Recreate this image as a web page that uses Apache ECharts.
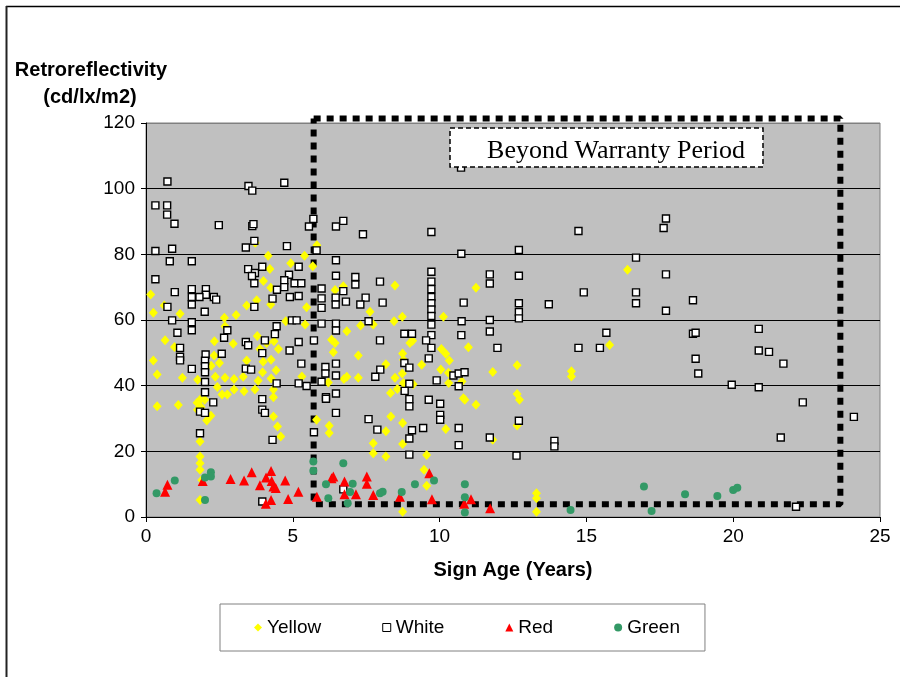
<!DOCTYPE html>
<html>
<head>
<meta charset="utf-8">
<script src="https://cdn.jsdelivr.net/npm/echarts@6/dist/echarts.min.js"></script>
<style>
html,body{margin:0;padding:0;background:#fff;}
#chart{width:900px;height:677px;}
</style>
</head>
<body>
<div id="chart"></div>
<script>
// ---- Data ----
const seriesNames = ['Yellow', 'White', 'Red', 'Green'];
const xTicks = [0, 5, 10, 15, 20, 25];
const yTicks = [0, 20, 40, 60, 80, 100, 120];
const xTitle = 'Sign Age (Years)';
const yTitle = ['Retroreflectivity', '(cd/lx/m2)'];
const boxLabel = 'Beyond Warranty Period';

const yellowPts = [
 [4.16,79.6],[5.4,79.6],[4.93,77.3],[4.22,75.5],[4.0,71.9],[4.25,69.8],[5.68,76.4],[0.16,67.8],[3.43,64.4],[3.77,66.0],
 [4.25,64.7],[5.47,63.9],[0.25,62.2],[1.16,61.9],[3.72,83.5],[0.62,64.4],[5.82,82.8],
 [2.67,60.7],[3.07,61.5],[2.69,58.1],[0.65,53.8],[0.97,51.8],[2.33,53.5],[2.97,52.8],[0.25,47.7],[0.38,43.4],[1.24,42.4],
 [1.76,41.8],[2.22,46.1],[2.5,46.9],[2.32,49.2],[2.36,42.7],[2.69,42.4],[3.0,42.0],[2.43,39.6],[2.59,37.3],[2.77,37.3],
 [3.0,38.8],[3.34,38.3],[3.31,42.7],[3.43,47.7],[3.71,38.8],[3.82,41.5],[3.97,44.1],[3.99,47.3],[4.26,47.9],[4.26,42.2],
 [4.43,44.7],[4.34,38.8],[4.34,36.5],[4.36,53.5],[4.51,51.2],[3.79,55.1],[3.88,51.2],[4.11,53.0],[5.31,42.8],[5.42,58.6],
 [4.76,59.6],[0.38,33.7],[1.1,34.1],[1.74,34.8],[1.84,35.7],[2.0,35.7],[1.75,32.7],[1.87,33.5],[2.21,30.8],[2.07,29.4],
 [4.34,30.6],[4.48,27.6],[4.59,24.5],[1.84,23.0],[1.84,18.4],[1.84,16.4],[1.84,14.4],[1.84,5.2],[1.9,11.3],[5.81,29.6],
 [8.48,70.5],[11.24,69.8],[6.44,69.1],[6.72,70.3],
 [7.63,62.5],[8.73,61.0],[8.45,59.6],[10.13,61.0],[7.31,58.3],[7.74,58.6],[6.84,56.6],[6.32,54.0],[6.44,53.0],[6.38,50.2],
 [7.23,49.2],[8.99,53.0],[9.08,53.7],[8.74,49.8],[8.77,47.9],[10.06,51.2],[10.21,49.7],[10.33,47.7],[10.98,51.7],[9.39,46.4],
 [8.17,46.5],[10.04,44.9],[10.3,43.9],[10.31,40.8],[10.76,41.3],[9.1,40.4],[7.23,42.4],[6.74,42.0],[6.84,42.7],[6.21,41.0],
 [8.48,42.4],[8.73,43.7],[8.33,37.8],[8.56,39.0],[8.77,40.8],[10.81,36.2],[10.86,35.7],[11.24,34.2],[6.24,27.8],[6.24,25.6],
 [8.34,30.6],[8.74,28.6],[8.17,26.1],[7.74,22.5],[7.74,19.4],[8.17,18.4],[8.74,22.2],[10.21,26.8],[9.56,18.9],[9.47,14.4],
 [9.56,9.5],[8.74,1.6],
 [16.4,75.3],[15.79,52.4],[11.81,44.2],[12.64,46.2],[14.49,44.4],[14.49,42.8],[12.64,37.5],[12.72,35.7],[12.64,27.9],[11.81,23.5],
 [13.3,7.2],[13.3,5.7],[13.3,1.6]
];

const whitePts = [
 [0.73,102.2],[3.49,100.8],[3.62,99.4],[4.71,101.8],[0.32,94.9],[0.72,94.9],[0.72,92.1],[0.97,89.3],[2.48,88.9],[3.62,88.6],
 [3.66,89.2],[5.7,90.8],[5.55,88.5],[3.69,84.1],[3.4,82.1],[4.8,82.5],[0.32,81.0],[0.89,81.7],[0.81,77.9],[1.56,77.9],
 [0.32,72.4],[0.98,68.5],[1.56,69.4],[1.56,67.0],[1.56,64.7],[2.04,69.4],[2.04,67.7],[1.82,67.0],[2.31,67.0],[2.39,66.2],
 [0.73,64.0],[2.0,62.5],[3.48,75.5],[3.71,74.3],[3.61,73.4],[3.96,76.2],[3.69,71.2],[5.2,76.2],[4.87,73.8],[4.71,72.1],
 [5.06,71.2],[5.29,71.2],[4.46,69.2],[4.71,70.0],[4.9,67.0],[5.2,67.3],[4.31,66.5],[3.69,64.0],[5.98,69.6],[5.81,81.2],
 [0.89,59.9],[1.56,59.3],[1.56,56.9],[1.07,56.1],[2.77,56.9],[2.66,54.6],[4.45,58.1],[4.39,55.7],[4.05,53.8],[3.4,53.3],
 [3.48,52.3],[1.16,51.5],[1.16,48.8],[1.16,47.7],[2.03,49.5],[2.01,47.6],[2.58,49.7],[3.96,49.9],[4.89,50.7],[5.2,53.3],
 [4.97,59.9],[5.13,59.9],[5.29,46.7],[1.56,45.1],[2.01,45.9],[2.01,44.1],[3.4,45.2],[3.58,44.9],[2.01,41.1],[2.01,38.0],
 [4.45,40.7],[5.2,40.7],[5.47,39.9],[2.29,34.9],[1.84,32.1],[2.01,31.7],[3.96,35.9],[3.96,32.7],[4.05,31.7],[1.84,25.5],
 [4.31,23.5],[3.96,4.7],
 [6.47,88.5],[6.72,90.2],[7.39,86.1],[9.72,86.8],[10.73,106.4],[10.74,80.2],[6.47,78.2],[6.47,73.5],[7.13,73.1],[7.13,70.8],
 [7.97,71.7],[6.72,68.8],[5.98,66.6],[6.46,66.8],[6.46,64.7],[6.81,65.6],[7.48,66.8],[7.3,64.7],[8.06,65.3],[9.72,74.7],
 [9.72,71.7],[9.72,69.4],[9.72,67.0],[9.72,65.1],[9.72,63.2],[10.82,65.3],[5.98,63.7],
 [9.72,61.2],[9.72,58.6],[9.72,55.4],[9.72,51.5],[10.75,59.6],[10.74,55.4],[5.98,58.9],[6.47,58.9],[6.47,56.8],[7.58,59.6],
 [7.97,53.8],[8.8,55.8],[9.06,55.8],[9.54,53.8],[5.72,53.8],[6.47,46.7],[6.11,45.7],[6.11,43.7],[6.47,43.1],[5.98,41.2],
 [7.98,44.9],[7.81,42.7],[8.8,46.9],[8.97,45.5],[8.97,40.6],[8.81,38.4],[8.97,35.9],[8.97,33.7],[9.63,48.3],[9.9,41.6],
 [10.47,43.1],[10.65,43.7],[10.85,44.1],[10.65,39.8],[9.63,35.7],[10.02,34.5],[10.02,31.1],[10.02,29.6],[10.65,27.1],[10.65,21.9],
 [6.47,37.6],[6.13,36.5],[6.13,36.0],[6.47,31.7],[7.58,29.8],[7.88,26.6],[9.06,26.4],[8.97,23.9],[9.44,27.1],[8.97,19.0],
 [5.72,25.8],[6.72,8.4],
 [14.73,87.1],[17.71,90.9],[17.63,88.0],[12.7,81.3],[16.69,79.0],[11.71,73.9],[11.71,71.1],[12.7,73.5],[17.71,73.9],[14.91,68.4],
 [16.69,68.4],[16.69,65.1],[12.7,65.1],[12.7,62.4],[12.7,60.5],[13.72,64.8],[17.71,62.8],[11.71,60.0],[11.71,56.5],[11.97,51.5],
 [15.68,56.1],[14.73,51.5],[15.46,51.5],[12.7,29.3],[11.71,24.2],[13.91,23.2],[13.91,21.5],[12.62,18.7],
 [18.63,66.0],[18.63,55.8],[18.72,56.1],[18.72,48.2],[18.81,43.7],[20.87,57.3],[20.87,50.7],[21.22,50.3],[21.71,46.7],[19.95,40.3],
 [20.87,39.5],[22.37,34.9],[24.11,30.5],[21.62,24.2],[22.14,3.1]
];

const redPts = [
 [0.73,9.8],[0.65,7.7],[1.93,11.0],[2.88,11.6],[3.34,11.1],[3.6,13.6],[4.26,14.0],[4.09,12.0],[3.88,9.7],[4.28,11.0],
 [4.34,9.3],[4.42,8.8],[4.74,11.1],[5.19,7.7],[4.26,5.2],[4.08,4.0],[4.84,5.5],[5.82,6.2],[6.38,12.3],[6.32,11.8],
 [6.76,10.8],[7.52,12.3],[7.52,10.1],[6.76,6.9],[7.15,6.9],[7.74,6.7],[8.65,6.2],[9.65,13.3],[9.74,5.4],[10.84,4.0],
 [11.07,5.4],[11.72,2.7]
];

const greenPts = [
 [0.36,7.2],[0.98,11.1],[2.01,12.0],[2.21,13.6],[2.21,12.3],[2.01,5.2],[5.7,16.9],[5.7,14.1],[6.72,16.4],[6.13,10.0],
 [7.04,10.1],[6.95,7.6],[6.87,4.2],[6.21,5.7],[7.97,7.2],[8.06,7.7],[8.71,7.6],[9.16,10.0],[9.81,11.1],[10.86,10.0],
 [10.86,6.0],[10.86,1.4],[14.46,2.1],[16.96,9.3],[17.22,1.8],[18.36,6.9],[19.46,6.4],[20.0,8.2],[20.14,8.9]
];

// Warranty region outline (data coordinates)
const warrantyBox = [[5.71,121.4],[23.65,121.4],[23.65,3.9],[5.71,3.9],[5.71,121.4]];

// ---- Chart ----
const FONT = "'Liberation Sans', Arial, sans-serif";
const chart = echarts.init(document.getElementById('chart'), null, {renderer: 'canvas'});

const option = {
  animation: false,
  backgroundColor: '#ffffff',
  grid: {
    left: 146, right: 20, top: 123, bottom: 160,
    show: true, backgroundColor: '#C0C0C0', borderColor: '#808080', borderWidth: 1
  },
  xAxis: {
    type: 'value', min: xTicks[0], max: xTicks[xTicks.length-1], interval: 5,
    name: xTitle, nameLocation: 'middle', nameGap: 43,
    nameTextStyle: {fontFamily: FONT, fontSize: 20, fontWeight: 'bold', color: '#000'},
    axisLine: {show: true, onZero: false, lineStyle: {color: '#000', width: 1}},
    axisTick: {show: true, inside: false, length: 5, lineStyle: {color: '#000'}},
    axisLabel: {fontFamily: FONT, fontSize: 19, color: '#000', margin: 10},
    splitLine: {show: false}
  },
  yAxis: {
    type: 'value', min: yTicks[0], max: yTicks[yTicks.length-1], interval: 20,
    axisLine: {show: true, lineStyle: {color: '#000', width: 1}},
    axisTick: {show: true, inside: false, length: 5, lineStyle: {color: '#000'}},
    axisLabel: {fontFamily: FONT, fontSize: 19, color: '#000', margin: 11},
    splitLine: {show: true, lineStyle: {color: ['#000','#000','#000','#000','#000','#000','#808080'], width: 1}}
  },
  legend: {
    data: [
      {name: seriesNames[0], itemStyle: {color: '#FFFF00'}},
      {name: seriesNames[1], itemStyle: {color: '#FFFFFF', borderColor: '#000', borderWidth: 1}},
      {name: seriesNames[2], itemStyle: {color: '#FF0000'}},
      {name: seriesNames[3], itemStyle: {color: '#339966'}}
    ],
    left: 220, top: 604,
    orient: 'horizontal',
    padding: [14, 25, 14, 34],
    itemGap: 61,
    itemWidth: 8, itemHeight: 8,
    borderColor: '#808080', borderWidth: 1,
    textStyle: {fontFamily: FONT, fontSize: 19, color: '#000'}
  },
  series: [
    {
      name: 'Warranty', type: 'line', data: warrantyBox, showSymbol: false, symbol: 'none',
      clip: false, silent: true, z: 1,
      lineStyle: {color: '#000', width: 6, type: [7, 6], cap: 'butt'}
    },
    {
      name: 'Yellow', type: 'scatter', data: yellowPts, symbol: 'diamond', symbolSize: [9, 10],
      itemStyle: {color: '#FFFF00', opacity: 1}, z: 2
    },
    {
      name: 'White', type: 'scatter', data: whitePts, symbol: 'rect', symbolSize: 7,
      itemStyle: {color: '#FFFFFF', borderColor: '#000', borderWidth: 1.4, opacity: 1}, z: 3
    },
    {
      name: 'Red', type: 'scatter', data: redPts, symbol: 'triangle', symbolSize: [10, 10],
      itemStyle: {color: '#FF0000', opacity: 1}, z: 4
    },
    {
      name: 'Green', type: 'scatter', data: greenPts, symbol: 'circle', symbolSize: 8,
      itemStyle: {color: '#339966', opacity: 1}, z: 5
    }
  ],
  graphic: [
    {type: 'line', shape: {x1: 6, y1: 6.5, x2: 900, y2: 6.5}, style: {stroke: '#000', lineWidth: 1.5}, z: 100},
    {type: 'line', shape: {x1: 6.5, y1: 6, x2: 6.5, y2: 677}, style: {stroke: '#222', lineWidth: 2}, z: 100},
    {type: 'text', x: 91, y: 70,
      style: {text: yTitle[0], fontFamily: FONT, fontSize: 20, fontWeight: 'bold', fill: '#000', textAlign: 'center', textVerticalAlign: 'middle'}, z: 100},
    {type: 'text', x: 90, y: 97,
      style: {text: yTitle[1], fontFamily: FONT, fontSize: 20, fontWeight: 'bold', fill: '#000', textAlign: 'center', textVerticalAlign: 'middle'}, z: 100},
    {type: 'rect', shape: {x: 450, y: 128, width: 313, height: 39},
      style: {fill: '#fff', stroke: '#000', lineWidth: 1.5, lineDash: [5, 3]}, z: 100},
    {type: 'text', x: 616, y: 164,
      style: {text: boxLabel, fontFamily: "'Liberation Serif', 'Times New Roman', serif", fontSize: 26, fill: '#000', textAlign: 'center', textVerticalAlign: 'bottom'}, z: 101}
  ]
};
chart.setOption(option);
</script>
</body>
</html>
